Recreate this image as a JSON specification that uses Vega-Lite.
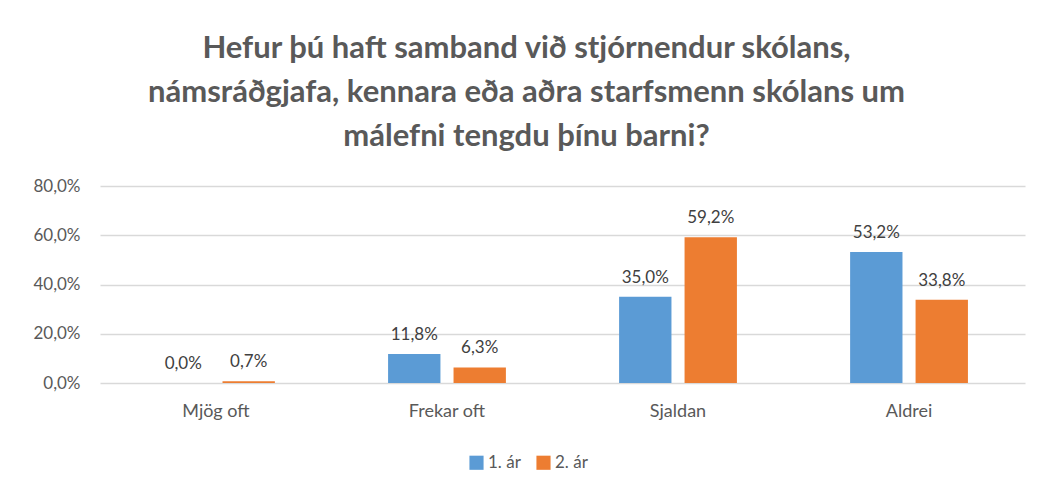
{
  "$schema": "https://vega.github.io/schema/vega-lite/v6.json",
  "width": 925,
  "height": 197,
  "autosize": {"type": "none"},
  "padding": {"left": 100, "top": 186, "right": 12, "bottom": 103},
  "background": "white",
  "title": {
    "text": ["Hefur þú haft samband við stjórnendur skólans,", "námsráðgjafa, kennara eða aðra starfsmenn skólans um", "málefni tengdu þínu barni?"],
    "font": "Lato",
    "fontSize": 31,
    "fontWeight": "bold",
    "color": "#595959",
    "lineHeight": 44,
    "anchor": "middle",
    "dx": -36,
    "offset": 24
  },
  "data": {
    "values": [
      {"cat": "Mjög oft", "series": "1. ár", "v": 0.0},
      {"cat": "Mjög oft", "series": "2. ár", "v": 0.007},
      {"cat": "Frekar oft", "series": "1. ár", "v": 0.118},
      {"cat": "Frekar oft", "series": "2. ár", "v": 0.063},
      {"cat": "Sjaldan", "series": "1. ár", "v": 0.35},
      {"cat": "Sjaldan", "series": "2. ár", "v": 0.592},
      {"cat": "Aldrei", "series": "1. ár", "v": 0.532},
      {"cat": "Aldrei", "series": "2. ár", "v": 0.338}
    ]
  },
  "encoding": {
    "x": {
      "field": "cat", "type": "nominal", "sort": null, "title": null,
      "scale": {"paddingInner": 0.49, "paddingOuter": 0.247},
      "axis": {"labelAngle": 0, "ticks": false, "domain": false, "labelFont": "Lato", "labelFontSize": 18, "labelColor": "#595959", "labelPadding": 19}
    },
    "xOffset": {"field": "series", "type": "nominal", "scale": {"paddingInner": 0.2, "paddingOuter": 0}},
    "y": {
      "field": "v", "type": "quantitative", "title": null,
      "scale": {"domain": [0, 0.8]},
      "axis": {"format": ".1%", "values": [0, 0.2, 0.4, 0.6, 0.8], "ticks": false, "domain": false, "labelFont": "Lato", "labelFontSize": 17, "labelColor": "#595959", "labelPadding": 20, "gridColor": "#d9d9d9", "gridWidth": 1.5}
    }
  },
  "layer": [
    {
      "mark": {"type": "bar"},
      "encoding": {
        "color": {
          "field": "series", "type": "nominal", "title": null,
          "scale": {"domain": ["1. ár", "2. ár"], "range": ["#5B9BD5", "#ED7D31"]},
          "legend": {"orient": "none", "legendX": 368, "legendY": 268, "direction": "horizontal", "symbolType": "square", "symbolSize": 200, "symbolStrokeWidth": 0, "labelFont": "Lato", "labelFontSize": 17, "labelColor": "#595959", "columnPadding": 14, "labelOffset": 3}
        }
      }
    },
    {
      "mark": {"type": "text", "baseline": "bottom", "dy": -10, "font": "Lato", "fontSize": 17, "color": "#404040"},
      "encoding": {
        "text": {"field": "v", "type": "quantitative", "format": ".1%"}
      }
    }
  ],
  "config": {
    "locale": {"number": {"decimal": ",", "thousands": ".", "grouping": [3], "currency": ["", " kr"]}},
    "view": {"stroke": null}
  }
}
